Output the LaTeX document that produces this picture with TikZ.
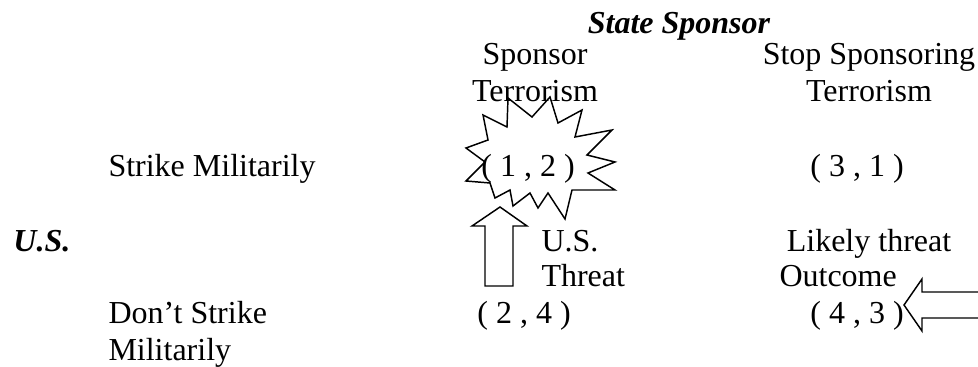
\documentclass[tikz,border=0pt]{standalone}
\usepackage{fontspec}
\setmainfont{Liberation Serif}

\tikzset{every picture/.style={line width=0.75pt}}
\tikzset{
  lbl/.style={inner sep=0pt, font=\fontsize{24}{27}\selectfont},
  hdr/.style={inner sep=0pt, font=\fontsize{24}{27}\selectfont\bfseries\itshape},
  outl/.style={line width=1.1},
}

\begin{document}
\begin{tikzpicture}[x=0.75pt,y=0.75pt,yscale=-1,xscale=1]
\useasboundingbox (0,0) rectangle (978,367);

%Shape: Star
\draw [outl] (483,115) -- (488,140) -- (466,148) -- (485,162) -- (466,181) -- (490,183) -- (495,198) -- (510,190) -- (513,206) -- (530,193) -- (538,208) -- (548,193) -- (565,219) -- (572,190) -- (615,190) -- (588,173) -- (615,162) -- (587,155) -- (612,130) -- (575,137) -- (582,110) -- (558,123) -- (550,97) -- (532,117) -- (508,98) -- (507,127) -- cycle ;
%Shape: Up Arrow
\draw [outl] (485,286) -- (485,226) -- (472,226) -- (500,207) -- (527,226) -- (513,226) -- (513,286) -- cycle ;
%Shape: Left Arrow
\draw [outl] (979,292) -- (922,292) -- (922,279) -- (904,305) -- (922,331) -- (922,318) -- (979,318) ;

% Text Node
\node [hdr, anchor=base] (sponsorhdr) at (679,34) {State Sponsor};
% Text Node
\node [lbl, anchor=base] (colA1) at (535,65) {Sponsor};
% Text Node
\node [lbl, anchor=base] (colA2) at (535,102) {Terrorism};
% Text Node
\node [lbl, anchor=base] (colB1) at (869,65) {Stop Sponsoring};
% Text Node
\node [lbl, anchor=base] (colB2) at (869,102) {Terrorism};
% Text Node
\node [lbl, anchor=base west] (rowA) at (108,177) {Strike Militarily};
% Text Node
\node [lbl, anchor=base] (payAA) at (528,177) {( 1 , 2 )};
% Text Node
\node [lbl, anchor=base] (payAB) at (857,177) {( 3 , 1 )};
% Text Node
\node [hdr, anchor=base west] (ushdr) at (13,251) {U.S.};
% Text Node
\node [lbl, anchor=base west] (threat1) at (541,251) {U.S.};
% Text Node
\node [lbl, anchor=base west] (threat2) at (541,286) {Threat};
% Text Node
\node [lbl, anchor=base] (likely1) at (869,251) {Likely threat};
% Text Node
\node [lbl, anchor=base west] (likely2) at (779,286) {Outcome};
% Text Node
\node [lbl, anchor=base west] (rowB1) at (108,323) {Don’t Strike};
% Text Node
\node [lbl, anchor=base west] (rowB2) at (108,360) {Militarily};
% Text Node
\node [lbl, anchor=base] (payBA) at (524,323) {( 2 , 4 )};
% Text Node
\node [lbl, anchor=base] (payBB) at (857,323) {( 4 , 3 )};

\end{tikzpicture}
\end{document}
